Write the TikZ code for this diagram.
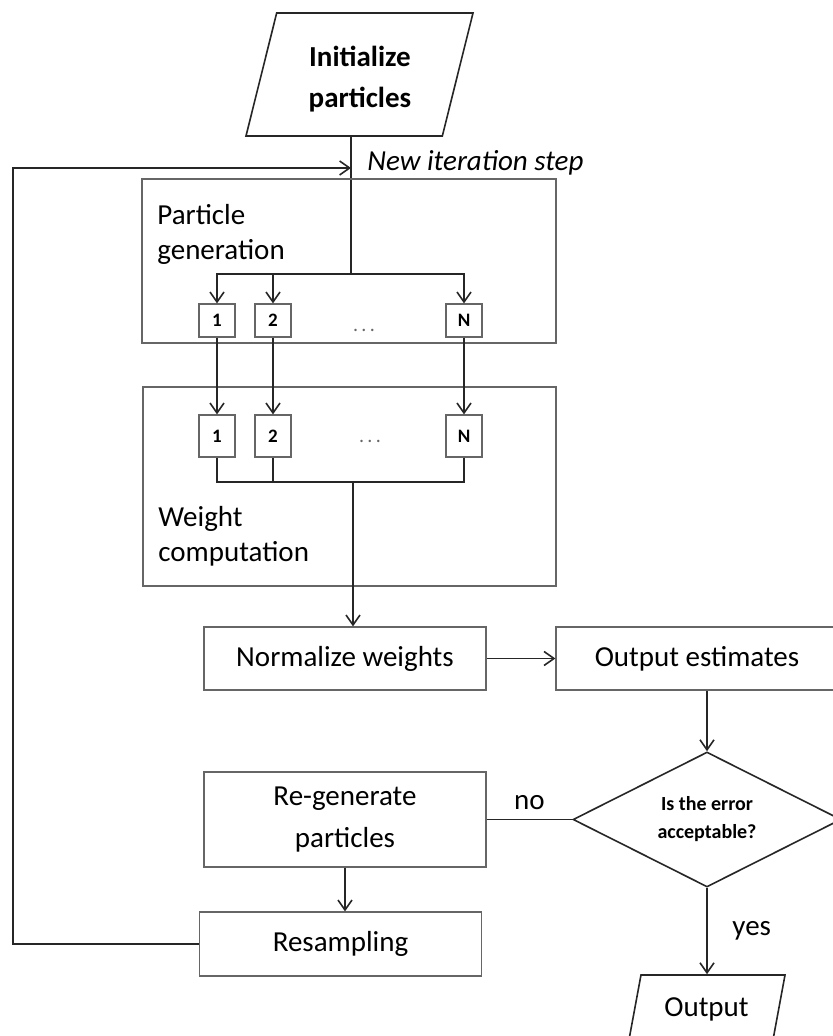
\documentclass[tikz,border=0pt]{standalone}
\usepackage{fontspec}
\setmainfont{Carlito}
\usetikzlibrary{positioning,shapes.geometric,arrows.meta}
\tikzset{
  >={Straight Barb[length=5pt,width=7pt]},
  line/.style={draw=black!85,line width=0.8pt},
  procbox/.style={draw=black!60,line width=0.6pt,minimum width=141pt,align=center,inner sep=0pt},
  groupbox/.style={draw=black!60,line width=0.6pt,inner sep=0pt},
  grouplabel/.style={anchor=north west,align=left,inner sep=0pt},
  pbox/.style={draw=black!60,line width=0.6pt,minimum width=18pt,inner sep=0pt,font=\fontsize{9.5}{11}\selectfont\bfseries},
  iobox/.style={draw=black!85,line width=0.8pt,shape=trapezium,trapezium stretches body,align=center,inner xsep=0pt},
  decision/.style={draw=black!85,line width=0.8pt,shape=diamond,aspect=2,inner sep=0pt,align=center,
                   minimum width=134pt,minimum height=67.5pt,font=\fontsize{10}{14}\selectfont\bfseries},
  dotsnode/.style={text=black!60,font=\fontsize{10}{12}\selectfont}
}
\begin{document}
\begin{tikzpicture}[x=0.5pt,y=-0.5pt,font=\fontsize{14.5}{17.5}\selectfont]
\clip (0,0) rectangle (833,1036);
% start
\node[iobox,trapezium left angle=76,trapezium right angle=104,inner ysep=30.75pt,minimum width=113.5pt] (init) at (359.5,74.5) {};
\node[align=center,inner sep=0pt,font=\fontsize{14.5}{20.5}\selectfont\bfseries] (initlabel) at (360,79) {Initialize\\particles};
\coordinate (iter) at (351,168);
\coordinate (corner) at (13,168);
\coordinate (split) at (351,274);
\coordinate (merge) at (353,482);
\node[anchor=west,inner sep=0pt,font=\fontsize{14.5}{17.5}\selectfont\itshape] (newstep) at (367,163) {New iteration step};
\draw[line] (init.south -| split) -- (split);

% the two groups
\node[groupbox,minimum width=207pt,minimum height=82pt] (pgen) at (349,261) {};
\node[grouplabel] (pgenlabel) at (157,204) {Particle\\generation};
\node[groupbox,minimum width=206.5pt,minimum height=99.5pt] (wcomp) at (349.5,486.5) {};
\node[grouplabel] (wcomplabel) at (158,506) {Weight\\computation};

\foreach \i/\xc/\lab in {1/217/1,2/273/2,n/464/N} {
  \node[pbox,minimum height=16.5pt] (gen\i) at (\xc,320.5) {\lab};
  \node[pbox,minimum height=21pt] (wgt\i) at (\xc,436) {\lab};
  \draw[line,->] (split) -| (gen\i.north);
  \draw[line,->] (gen\i.south) -- (wgt\i.north);
  \draw[line] (wgt\i.south) |- (merge);
}
\node[dotsnode] (gendots) at (364,330) {.\,.\,.};
\node[dotsnode] (wgtdots) at (370,441) {.\,.\,.};

% lower part
\node[procbox,minimum height=31.5pt] (norm) at (345,658.5) {Normalize weights};
\node[procbox,minimum height=31.5pt] (outest) at (697,658.5) {Output estimates};
\node[decision] (check) at (707,819.5) {Is the error\\acceptable?};
\node[procbox,minimum height=47.5pt,font=\fontsize{14.5}{21}\selectfont] (regen) at (345,819.5) {Re-generate\\particles};
\node[procbox,minimum height=32pt] (resamp) at (340.5,944) {Resampling};
\node[iobox,trapezium left angle=79.5,trapezium right angle=100.5,text height=9.5pt,text depth=2.9pt,inner ysep=11.3pt,
      minimum width=78.5pt] (out) at (706.5,1010) {Output};

\draw[line,->] (merge) -- (merge |- norm.north);
\draw[line,->] (norm) -- (outest);
\draw[line,->] (outest.south -| check) -- (check.north);
\draw[line] (check.west) -- node[above=1pt] {no} (regen.east);
\draw[line,->] (regen.south) -- (regen.south |- resamp.north);
\draw[line,->] (check.south) -- node[right=9pt] {yes} (check.south |- out.north);
% back to the top
\draw[line,->] (resamp.west) -| (corner) -- (iter);
\end{tikzpicture}
\end{document}
